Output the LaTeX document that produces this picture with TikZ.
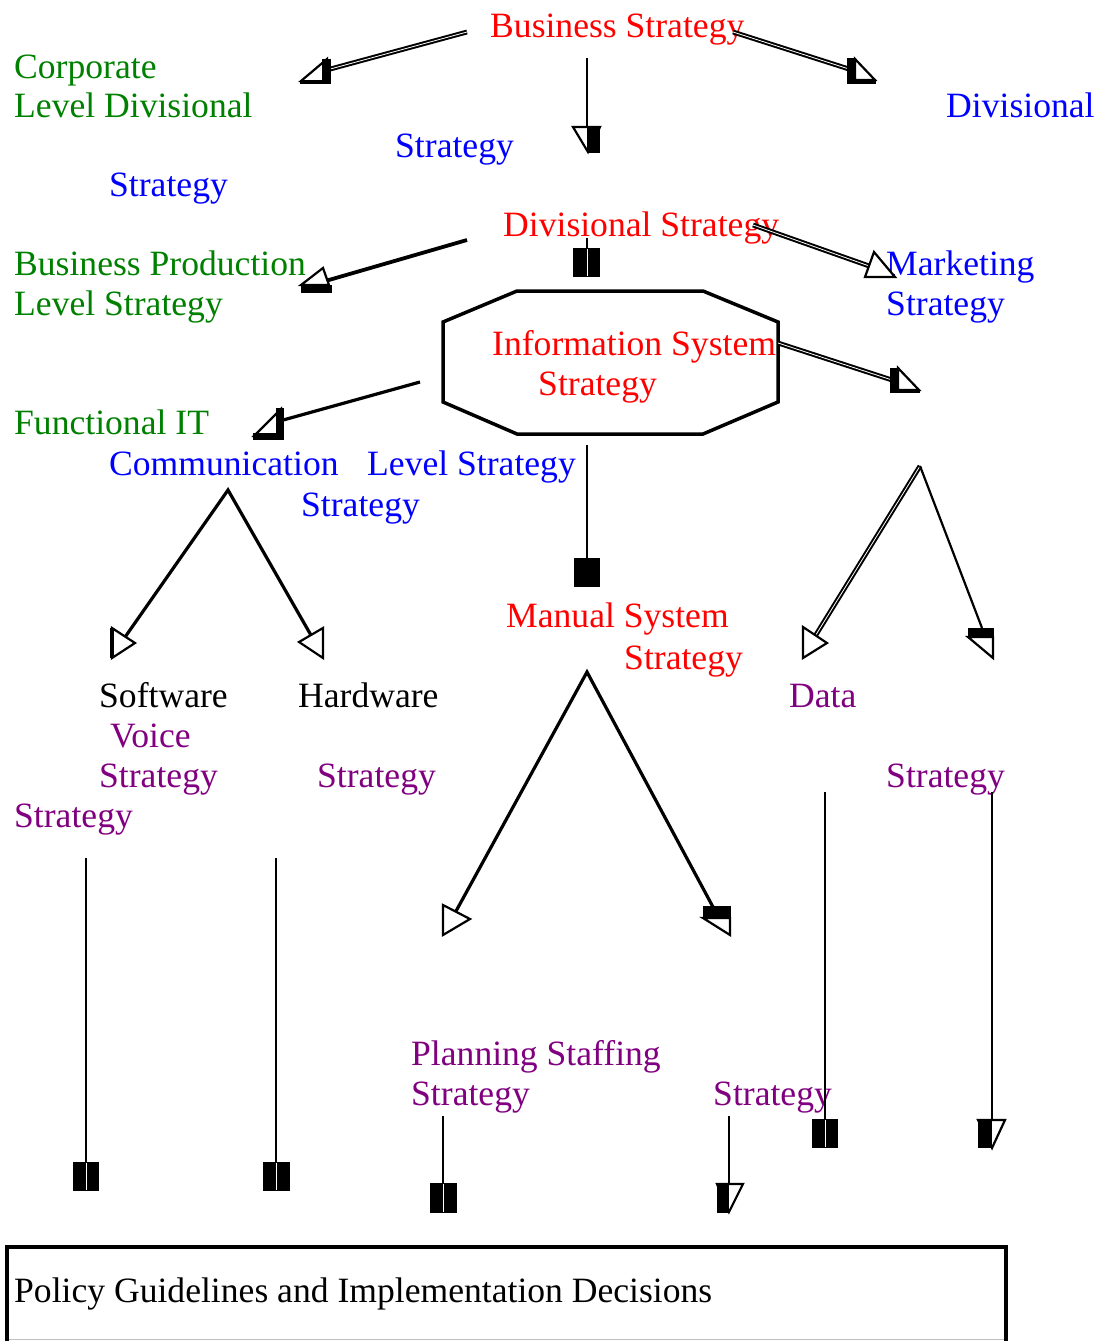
\documentclass[tikz,border=0pt]{standalone}
\usepackage{fontspec}
\setmainfont{Liberation Serif}
\definecolor{cred}{RGB}{255,0,0}
\definecolor{cgreen}{RGB}{0,128,0}
\definecolor{cblue}{RGB}{0,0,255}
\definecolor{cpurple}{RGB}{128,0,128}
\begin{document}
\begin{tikzpicture}[x=1pt,y=-1pt,
  lbl/.style={anchor=base west,inner sep=0pt,font=\fontsize{35.6}{40}\selectfont},
  lr/.style={lbl,text=cred},
  lg/.style={lbl,text=cgreen},
  lb/.style={lbl,text=cblue},
  lp/.style={lbl,text=cpurple},
  lk/.style={lbl,text=black},
  ln/.style={draw=black,line width=3.2pt},
  thin ln/.style={draw=black,line width=2.2pt},
  dl/.style={draw=black,double=white,double distance=0.8pt,line width=2pt},
  hd/.style={draw=black,line width=2.2pt,fill=white,line join=miter},
  bar/.style={fill=black},
  split/.style={draw=white,line width=0.7pt}]
\useasboundingbox (0,0) rectangle (1097,1341);

% ---------- texts ----------
\node[lr] (bs)  at (490,37)  {Business Strategy};
\node[lg] (c1)  at (14,78)   {Corporate};
\node[lg] (c2)  at (14,117)  {Level Divisional};
\node[lb] (d1)  at (946,117) {Divisional};
\node[lb] (s1)  at (395,157) {Strategy};
\node[lb] (s2)  at (109,196) {Strategy};
\node[lr] (ds)  at (503,236) {Divisional Strategy};
\node[lg] (bp)  at (14,275)  {Business Production};
\node[lg] (ls)  at (14,315)  {Level Strategy};
\node[lb] (mk)  at (886,275) {Marketing};
\node[lb] (ms)  at (886,315) {Strategy};
\node[lr] (is1) at (492,355) {Information System};
\node[lr] (is2) at (538,395) {Strategy};
\node[lg] (fi)  at (14,434)  {Functional IT};
\node[lb] (cm)  at (109,475) {Communication};
\node[lb] (lv)  at (367,475) {Level Strategy};
\node[lb] (s3)  at (301,516) {Strategy};
\node[lr] (mn1) at (506,627) {Manual System};
\node[lr] (mn2) at (624,669) {Strategy};
\node[lk] (sw)  at (99,707)  {Software};
\node[lk] (hw)  at (298,707) {Hardware};
\node[lp] (dt)  at (789,707) {Data};
\node[lp] (vc)  at (110,747) {Voice};
\node[lp] (s4)  at (99,787)  {Strategy};
\node[lp] (s5)  at (317,787) {Strategy};
\node[lp] (s6)  at (886,787) {Strategy};
\node[lp] (s7)  at (14,827)  {Strategy};
\node[lp] (ps1) at (411,1065) {Planning Staffing};
\node[lp] (ps2) at (411,1105) {Strategy};
\node[lp] (s8)  at (713,1105) {Strategy};

% ---------- octagon ----------
\draw[line width=3.5pt,line join=miter] (517,291) -- (703,291) -- (778,322) -- (778,402)
  -- (703,434) -- (517,434) -- (443,402) -- (443,322) -- cycle;

% ---------- bottom box ----------
\draw[line width=1pt,draw=black!25] (6,1339) -- (1007,1339);
\draw[line width=3.2pt] (7,1341) -- (7,1247) -- (1006,1247) -- (1006,1341);
\node[lk] (pg) at (14,1302) {Policy Guidelines and Implementation Decisions};

% ---------- connector end points ----------
\coordinate (a1s) at (467,32);   \coordinate (a1e) at (323,71);
\coordinate (a2s) at (587,58);   \coordinate (a2e) at (587,127);
\coordinate (a3s) at (733,32);   \coordinate (a3e) at (852,70);
\coordinate (a4s) at (467,240);  \coordinate (a4e) at (322,282);
\coordinate (a5s) at (587,238);  \coordinate (a5e) at (587,249);
\coordinate (a6s) at (753,225);  \coordinate (a6e) at (872,267);
\coordinate (a7s) at (420,382);  \coordinate (a7e) at (276,422);
\coordinate (a8s) at (778,343);  \coordinate (a8e) at (892,380);
\coordinate (a9s) at (587,445);  \coordinate (a9e) at (587,558);
\coordinate (ca)  at (228,490);  \coordinate (cl) at (123,640); \coordinate (cr) at (312,637);
\coordinate (da)  at (920,466);  \coordinate (dl) at (814,638); \coordinate (dr) at (982,628);
\coordinate (ma)  at (587,672);  \coordinate (ml) at (455,913); \coordinate (mr) at (713,907);
\coordinate (v1s) at (86,858);   \coordinate (v1e) at (86,1162);
\coordinate (v2s) at (276,858);  \coordinate (v2e) at (276,1162);
\coordinate (v3s) at (443,1116); \coordinate (v3e) at (443,1184);
\coordinate (v4s) at (729,1116); \coordinate (v4e) at (729,1184);
\coordinate (v5s) at (825,792);  \coordinate (v5e) at (825,1120);
\coordinate (v6s) at (992,792);  \coordinate (v6e) at (992,1120);

% ---------- connectors ----------
\draw[dl] (a1s) -- (a1e);
\draw[thin ln] (a2s) -- (a2e);
\draw[dl] (a3s) -- (a3e);
\draw[ln,line width=3.8pt] (a4s) -- (a4e);
\draw[thin ln] (a5s) -- (a5e);
\draw[dl] (a6s) -- (a6e);
\draw[ln] (a7s) -- (a7e);
\draw[dl] (a8s) -- (a8e);
\draw[thin ln] (a9s) -- (a9e);
\draw[ln,line join=miter] (cl) -- (ca) -- (cr);
\draw[dl] (da) -- (dl);
\draw[thin ln] (da) -- (dr);
\draw[ln,line join=miter] (ml) -- (ma) -- (mr);
\draw[thin ln] (v1s) -- (v1e);
\draw[thin ln] (v2s) -- (v2e);
\draw[thin ln] (v3s) -- (v3e);
\draw[thin ln] (v4s) -- (v4e);
\draw[thin ln] (v5s) -- (v5e);
\draw[thin ln] (v6s) -- (v6e);

% ---------- arrow heads ----------
% A1
\draw[hd] (301,81) -- (327,59) -- (327,82) -- cycle;
\fill[bar] (322,59) rectangle (331,83);
\fill[bar] (300,80) rectangle (331,84);
% A2
\draw[hd] (573,127) -- (600,127) -- (588,152) -- cycle;
\fill[bar] (587,127) rectangle (600,153);
% A3
\draw[hd] (855,59) -- (875,80) -- (855,80) -- cycle;
\fill[bar] (847,58) rectangle (855,83);
\fill[bar] (847,80) rectangle (876,84);
% A4
\draw[hd] (301,285) -- (323,268) -- (329,285) -- cycle;
\fill[bar] (301,285) rectangle (332,293);
% A5
\fill[bar] (573,248) rectangle (600,277);
\draw[split] (587,249) -- (587,276);
% A6
\draw[hd] (865,277) -- (874,252) -- (895,277) -- cycle;
% A7
\draw[hd] (254,436) -- (281,409) -- (281,436) -- cycle;
\fill[bar] (276,408) rectangle (284,440);
\fill[bar] (253,433) rectangle (284,440);
% A8
\draw[hd] (898,368) -- (919,390) -- (898,390) -- cycle;
\fill[bar] (890,368) rectangle (898,393);
\fill[bar] (890,389) rectangle (920,393);
% A9
\fill[bar] (574,558) rectangle (600,587);
% communication fork
\draw[hd] (112,628) -- (135,643) -- (112,658) -- cycle;
\fill[bar] (110,628) rectangle (114,658);
\draw[hd] (323,628) -- (299,642) -- (323,658) -- cycle;
% right fork
\draw[hd] (803,627) -- (827,643) -- (803,658) -- cycle;
\draw[hd] (968,637) -- (993,637) -- (993,658) -- cycle;
\fill[bar] (968,628) rectangle (994,638);
% manual fork
\draw[hd] (443,905) -- (470,919) -- (443,935) -- cycle;
\draw[hd] (703,918) -- (730,918) -- (730,935) -- cycle;
\fill[bar] (703,906) rectangle (731,918);
% bottom verticals
\fill[bar] (73,1162) rectangle (99,1191);
\draw[split] (86,1163) -- (86,1190);
\fill[bar] (263,1162) rectangle (290,1191);
\draw[split] (276,1163) -- (276,1190);
\fill[bar] (430,1183) rectangle (457,1213);
\draw[split] (443,1184) -- (443,1212);
\draw[hd] (717,1184) -- (743,1184) -- (729,1212) -- cycle;
\fill[bar] (717,1183) rectangle (729,1213);
\fill[bar] (812,1119) rectangle (838,1148);
\draw[split] (825,1120) -- (825,1147);
\draw[hd] (978,1120) -- (1005,1120) -- (992,1148) -- cycle;
\fill[bar] (978,1119) rectangle (992,1148);
\end{tikzpicture}
\end{document}
